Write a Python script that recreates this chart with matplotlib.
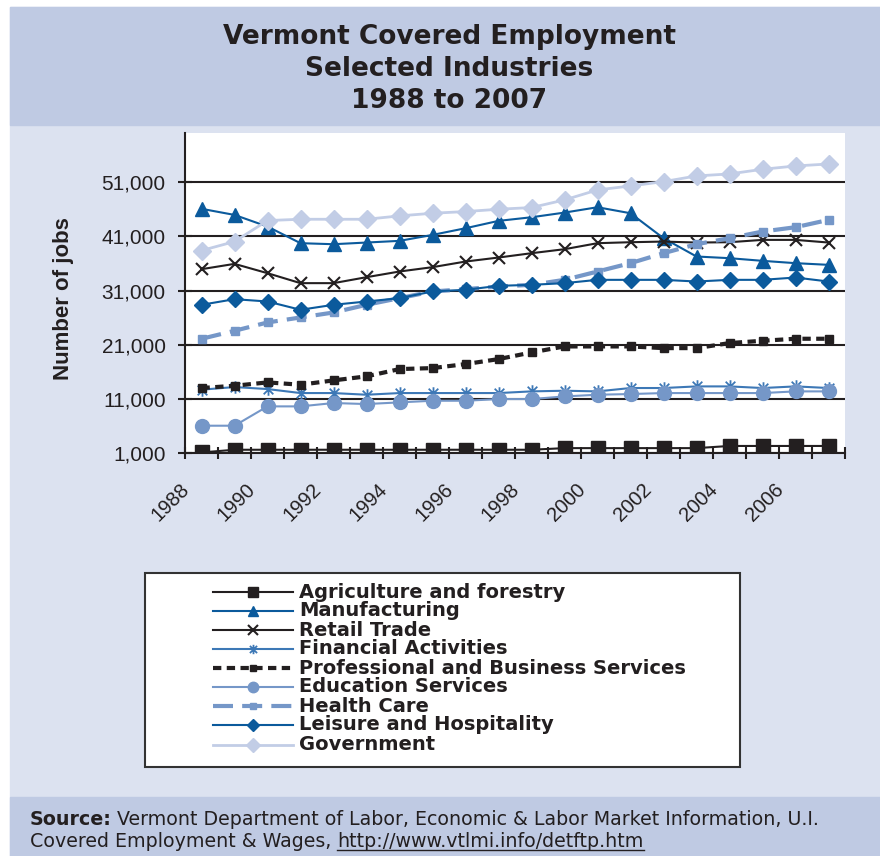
import numpy as np
import matplotlib
matplotlib.use("Agg")
import matplotlib.pyplot as plt
from matplotlib.patches import Rectangle
from matplotlib.path import Path
from matplotlib.lines import Line2D
from matplotlib.transforms import ScaledTranslation

# ---- data -------------------------------------------------------------
years = list(range(1988, 2008))
year_labels = [str(y) if y % 2 == 0 else "" for y in years]
ytick_values = [1000, 11000, 21000, 31000, 41000, 51000]

agriculture = [1100, 1600, 1600, 1600, 1600, 1600, 1600, 1600, 1600, 1600,
               1600, 1900, 1900, 1900, 1900, 1900, 2300, 2300, 2300, 2300]
manufacturing = [46100, 44970, 42820, 39750, 39560, 39870, 40180, 41280, 42510, 43870,
                 44540, 45400, 46390, 45280, 40670, 37290, 36980, 36490, 36060, 35750]
retail = [34950, 35930, 34210, 32370, 32370, 33470, 34520, 35320, 36360, 37100,
          37900, 38640, 39750, 39930, 40050, 39870, 39930, 40360, 40360, 39870]
financial = [12690, 13180, 12810, 12070, 12070, 11760, 12070, 12070, 12070, 12070,
             12380, 12500, 12380, 13000, 13000, 13300, 13300, 13000, 13300, 13000]
professional = [13000, 13420, 14040, 13610, 14410, 15150, 16500, 16680, 17420, 18340,
                19570, 20680, 20680, 20680, 20370, 20370, 21300, 21730, 22100, 22100]
education = [6040, 6040, 9610, 9610, 10230, 10040, 10350, 10650, 10650, 10960,
             10960, 11450, 11760, 11890, 12070, 12070, 12070, 12070, 12380, 12380]
health = [22090, 23570, 25110, 26030, 26950, 28370, 29600, 30830, 31260, 31750,
          32060, 32980, 34520, 36060, 37900, 39560, 40670, 41900, 42700, 44050]
leisure = [28370, 29410, 28980, 27450, 28370, 28980, 29600, 30830, 31140, 31870,
           32060, 32370, 32980, 32980, 32980, 32670, 32980, 32980, 33410, 32670]
government = [38390, 40050, 43930, 44170, 44170, 44170, 44790, 45280, 45590, 46020,
              46330, 47740, 49590, 50320, 51120, 52170, 52540, 53400, 54010, 54380]

series_names = ["Agriculture and forestry", "Manufacturing", "Retail Trade",
                "Financial Activities", "Professional and Business Services",
                "Education Services", "Health Care", "Leisure and Hospitality",
                "Government"]

# ---- styles -----------------------------------------------------------
DARK = "#231f20"
NAVY = "#0b5a9c"
MID = "#3d78b6"
SOFT = "#7597c8"
PALE = "#c2cde6"
BAND = "#bfcae3"
BODY = "#dce2f0"

asterisk = Path([(-1, -1), (1, 1), (-1, 1), (1, -1), (0, -1.3), (0, 1.3)],
                [Path.MOVETO, Path.LINETO, Path.MOVETO, Path.LINETO,
                 Path.MOVETO, Path.LINETO])

styles = [
    dict(color=DARK, lw=1.5, marker="s", ms=9.5, mfc=DARK, mec=DARK),
    dict(color=NAVY, lw=1.5, marker="^", ms=10, mfc=NAVY, mec=NAVY),
    dict(color=DARK, lw=1.5, marker="x", ms=9, mew=1.5),
    dict(color=MID, lw=1.5, marker=asterisk, ms=9, mew=1.3, mfc="none", mec=MID),
    dict(color=DARK, lw=3, ls=(0, (2.0, 1.3)), marker="s", ms=6, mfc=DARK, mec=DARK),
    dict(color=SOFT, lw=1.5, marker="o", ms=10, mfc=SOFT, mec=SOFT),
    dict(color=SOFT, lw=3, ls=(0, (4.8, 2.2)), marker="s", ms=6, mfc=SOFT, mec=SOFT),
    dict(color=NAVY, lw=1.5, marker="D", ms=8.5, mfc=NAVY, mec=NAVY),
    dict(color=PALE, lw=2, marker="D", ms=9.5, mfc=PALE, mec=PALE),
]
all_series = [agriculture, manufacturing, retail, financial, professional,
              education, health, leisure, government]

W, H = 880, 856
fig = plt.figure(figsize=(W / 100, H / 100), dpi=100, facecolor="white")


def fx(px):
    return px / W


def fy(py):
    return 1 - py / H


# panel background and bands
fig.add_artist(Rectangle((fx(10), 0), fx(870), (H - 7) / H, transform=fig.transFigure,
                         color=BODY, zorder=-10))
fig.add_artist(Rectangle((fx(10), fy(125)), fx(870), (125 - 7) / H,
                         transform=fig.transFigure, color=BAND, zorder=-9))
fig.add_artist(Rectangle((fx(10), 0), fx(870), (H - 797) / H,
                         transform=fig.transFigure, color=BAND, zorder=-9))

# title
title_lines = ["Vermont Covered Employment", "Selected Industries", "1988 to 2007"]
for line, base in zip(title_lines, [43.5, 75.5, 107.5]):
    fig.text(fx(449), fy(base), line, ha="center", va="baseline",
             fontsize=19, fontweight="bold", color=DARK, family="DejaVu Sans")

# ---- main chart -------------------------------------------------------
ax = fig.add_axes([fx(185), fy(453), fx(660), 320 / H])
ax.set_facecolor("white")
x = np.arange(len(years))
for vals, st in zip(all_series, styles):
    ax.plot(x, vals, **st, zorder=3)

ax.set_xlim(-0.5, len(years) - 0.5)
ax.set_ylim(1000, 60100)
ax.set_yticks(ytick_values)
ax.set_yticklabels([f"{v:,}" for v in ytick_values], fontsize=15,
                   family="Liberation Sans", color=DARK)
ax.yaxis.grid(True, color=DARK, lw=1.5)
ax.set_axisbelow(True)
ax.tick_params(axis="y", direction="inout", length=10, width=1.5, color=DARK, pad=9)

ax.set_xticks(x)
ax.set_xticklabels(year_labels, fontsize=14.5, family="Liberation Sans", color=DARK,
                   rotation=45, ha="right", va="top", rotation_mode="anchor")
ax.tick_params(axis="x", which="major", length=0, pad=22)
shift = ScaledTranslation(-0.22, 0.04, fig.dpi_scale_trans)
for lab in ax.get_xticklabels():
    lab.set_transform(lab.get_transform() + shift)
ax.set_xticks(np.arange(-0.5, len(years), 1), minor=True)
ax.tick_params(axis="x", which="minor", direction="inout", length=8, width=1.5, color=DARK)

for side in ("top", "right"):
    ax.spines[side].set_visible(False)
for side in ("left", "bottom"):
    ax.spines[side].set_color(DARK)
    ax.spines[side].set_linewidth(1.5)

fig.text(fx(63), fy(299), "Number of jobs", rotation=90, ha="center", va="center",
         fontsize=16, fontweight="bold", family="Liberation Sans", color=DARK)

# ---- legend -----------------------------------------------------------
lx0, ly0, lw_, lh_ = 145, 573, 595, 194
lax = fig.add_axes([fx(lx0), fy(ly0 + lh_), fx(lw_), lh_ / H])
lax.set_xlim(0, lw_)
lax.set_ylim(lh_, 0)
lax.axis("off")
lax.add_patch(Rectangle((0, 0), lw_, lh_, facecolor="white", edgecolor="#333333",
                        lw=1.5, clip_on=False))
row_y = [19, 38, 57, 76, 95, 114, 133, 152, 172]
marker_keys = ("marker", "ms", "mfc", "mec", "mew")
for name, st, ry in zip(series_names, styles, row_y):
    line_kw = {k: v for k, v in st.items() if k not in marker_keys}
    lax.add_line(Line2D([68, 148], [ry, ry], **line_kw))
    mk = {k: v for k, v in st.items() if k in marker_keys + ("color",)}
    mk["ms"] = st["ms"] * 0.75
    lax.add_line(Line2D([108], [ry], ls="none", **mk))
    lax.text(154, ry, name, ha="left", va="center", fontsize=14, fontweight="bold",
             family="DejaVu Sans", color=DARK)

# ---- source note ------------------------------------------------------
fig.canvas.draw()
renderer = fig.canvas.get_renderer()
src_size = 13.7
t1 = fig.text(fx(30), fy(825), "Source:", fontsize=src_size, fontweight="bold",
              family="DejaVu Sans", color=DARK, va="baseline")
bb = t1.get_window_extent(renderer)
fig.text((bb.x1 + 5) / W, fy(825),
         "Vermont Department of Labor, Economic & Labor Market Information, U.I.",
         fontsize=src_size, family="DejaVu Sans", color=DARK, va="baseline")
t3 = fig.text(fx(30), fy(847), "Covered Employment & Wages, ", fontsize=src_size,
              family="DejaVu Sans", color=DARK, va="baseline")
bb3 = t3.get_window_extent(renderer)
t4 = fig.text(bb3.x1 / W, fy(847), "http://www.vtlmi.info/detftp.htm", fontsize=src_size,
              family="DejaVu Sans", color=DARK, va="baseline")
bb4 = t4.get_window_extent(renderer)
fig.add_artist(Line2D([bb4.x0 / W, bb4.x1 / W], [fy(850), fy(850)],
                      transform=fig.transFigure, color=DARK, lw=1))

fig.savefig("out.png", dpi=100, facecolor="white")
